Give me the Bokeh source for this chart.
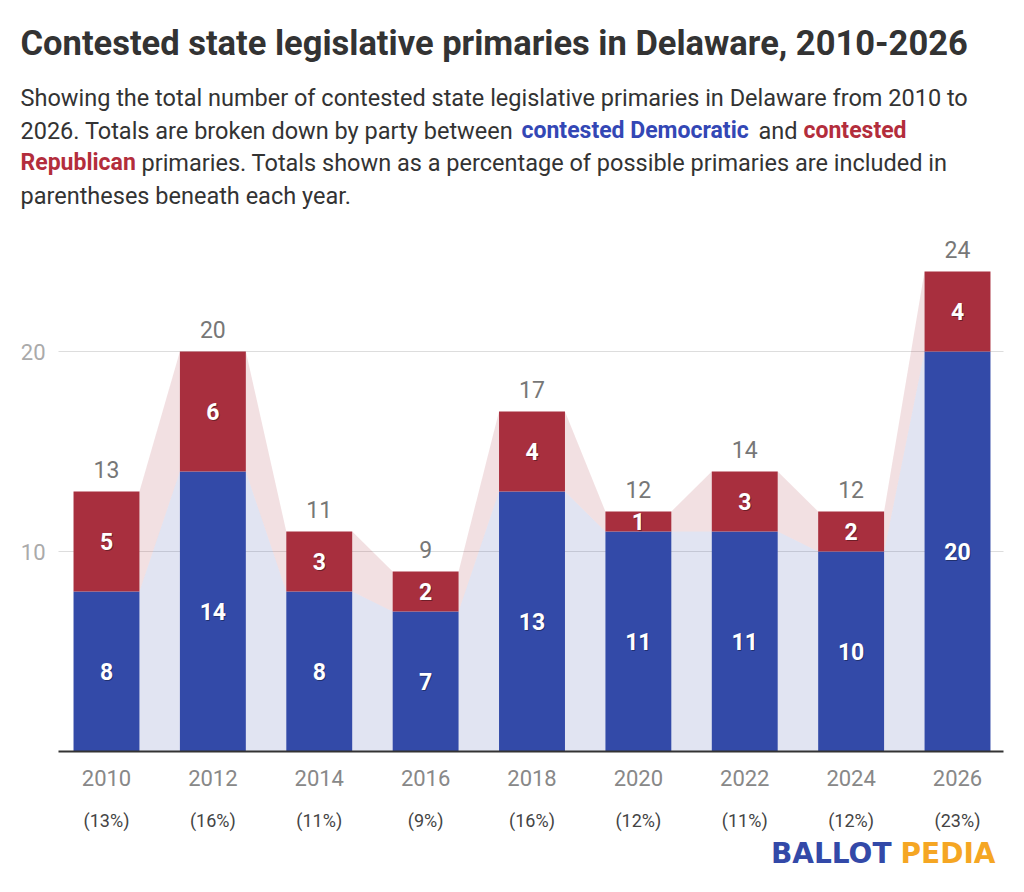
from bokeh.plotting import figure
from bokeh.models import ColumnDataSource, Label, LabelSet, Range1d
from bokeh.core.properties import value
from bokeh.embed import file_html
from bokeh.resources import INLINE

# data
years = ["2010", "2012", "2014", "2016", "2018", "2020", "2022", "2024", "2026"]
dem = [8, 14, 8, 7, 13, 11, 11, 10, 20]
rep = [5, 6, 3, 2, 4, 1, 3, 2, 4]
pct = ["(13%)", "(16%)", "(11%)", "(9%)", "(16%)", "(12%)", "(11%)", "(12%)", "(23%)"]
yticks = [10, 20]

BLUE = "#334aa8"
RED = "#a82f3e"
FONT = "Roboto"
W, H = 1024, 892

x = list(range(len(years)))
total = [d + r for d, r in zip(dem, rep)]
w = 0.62

# the frame fills the whole canvas; pixel layout of the plot area
X0, KX = 106, 106.375     # pixel of first bar centre, pixels per category
Y0, KY = 751, 20          # pixel of the baseline, pixels per primary


def dx(px):
    return (px - X0) / KX


src = ColumnDataSource(dict(
    x=x, dem=dem, rep=rep, total=total, pct=pct, years=years,
    zero=[0] * len(x),
    dem_mid=[d / 2 for d in dem],
    rep_mid=[d + r / 2 for d, r in zip(dem, rep)],
    dem_txt=[str(d) for d in dem],
    rep_txt=[str(r) for r in rep],
    tot_txt=[str(t) for t in total],
))

p = figure(width=W, height=H, output_backend="svg", toolbar_location=None,
           x_range=Range1d(dx(0), dx(W)), y_range=Range1d((Y0 - H) / KY, Y0 / KY),
           x_axis_location=None, y_axis_location=None, min_border=0)
p.outline_line_color = None
p.background_fill_color = "white"
p.border_fill_color = "white"
p.xgrid.visible = False
p.ygrid.visible = False

left, right = dx(58), dx(1003)

# grid lines
p.segment(x0=[left] * len(yticks), y0=yticks, x1=[right] * len(yticks), y1=yticks,
          line_color="#dddddd", line_width=1)

# connecting bands between bars
bx, by, rx, ry = [], [], [], []
for i in range(len(x) - 1):
    x1, x2 = x[i] + w / 2, x[i + 1] - w / 2
    bx.append([x1, x2, x2, x1])
    by.append([0, 0, dem[i + 1], dem[i]])
    rx.append([x1, x2, x2, x1])
    ry.append([dem[i], dem[i + 1], total[i + 1], total[i]])
p.patches(bx, by, fill_color=BLUE, fill_alpha=0.15, line_color=None)
p.patches(rx, ry, fill_color=RED, fill_alpha=0.15, line_color=None)

# stacked bars
p.vbar(x="x", width=w, bottom=0, top="dem", source=src, fill_color=BLUE, line_color=None)
p.vbar(x="x", width=w, bottom="dem", top="total", source=src, fill_color=RED, line_color=None)

# baseline
p.segment(x0=[left], y0=[0], x1=[right], y1=[0], line_color="#333333", line_width=2)

# labels inside bars (with a soft shadow)
for col, ycol in [("dem_txt", "dem_mid"), ("rep_txt", "rep_mid")]:
    p.add_layout(LabelSet(x="x", y=ycol, text=col, source=src, x_offset=1, y_offset=-1,
                          text_align="center", text_baseline="middle",
                          text_font=value(FONT), text_font_style="bold", text_font_size="23px",
                          text_color="#000000", text_alpha=0.35))
    p.add_layout(LabelSet(x="x", y=ycol, text=col, source=src,
                          text_align="center", text_baseline="middle",
                          text_font=value(FONT), text_font_style="bold", text_font_size="23px",
                          text_color="white"))

# totals above bars
p.add_layout(LabelSet(x="x", y="total", text="tot_txt", source=src, y_offset=14,
                      text_align="center", text_baseline="alphabetic",
                      text_font=value(FONT), text_font_size="23px", text_color="#777777"))

# year labels and percentages under the bars
p.add_layout(LabelSet(x="x", y="zero", text="years", source=src, y_offset=-34,
                      text_align="center", text_baseline="alphabetic",
                      text_font=value(FONT), text_font_size="22px", text_color="#888888"))
p.add_layout(LabelSet(x="x", y="zero", text="pct", source=src, y_offset=-75,
                      text_align="center", text_baseline="alphabetic",
                      text_font=value(FONT), text_font_size="18px", text_color="#444444"))

# y tick labels
ysrc = ColumnDataSource(dict(x=[dx(45)] * len(yticks), y=yticks, t=[str(t) for t in yticks]))
p.add_layout(LabelSet(x="x", y="y", text="t", source=ysrc,
                      text_align="right", text_baseline="middle",
                      text_font=value(FONT), text_font_size="22px", text_color="#aaaaaa"))


# title, subtitle, logo (pixel positions from the top-left corner)
def txt(s, px, py, color="#333333", size="23.5px", style="normal", align="left", font=FONT):
    p.add_layout(Label(x=px, y=H - py, x_units="screen", y_units="screen", text=s,
                       text_font=font, text_font_size=size, text_font_style=style,
                       text_color=color, text_align=align, text_baseline="alphabetic"))


txt("Contested state legislative primaries in Delaware, 2010-2026", 20, 42,
    size="34.5px", style="bold")
txt("Showing the total number of contested state legislative primaries in Delaware from 2010 to", 20, 97)
txt("2026. Totals are broken down by party between", 20, 130)
txt("contested Democratic", 521, 130, color="#3347b5", size="23px", style="bold")
txt("and", 758, 130)
txt("contested", 803, 130, color="#b32d3c", size="23px", style="bold")
txt("Republican", 20, 162, color="#b32d3c", size="23px", style="bold")
txt("primaries. Totals shown as a percentage of possible primaries are included in", 141, 162)
txt("parentheses beneath each year.", 20, 195.5)

txt("BALLOT", 891, 853, color="#3349a8", size="28px", style="bold", align="right", font="DejaVu Sans")
txt("PEDIA", 900, 853, color="#f5a623", size="28px", style="bold", font="DejaVu Sans")

open("out.html", "w").write(file_html(p, INLINE))
